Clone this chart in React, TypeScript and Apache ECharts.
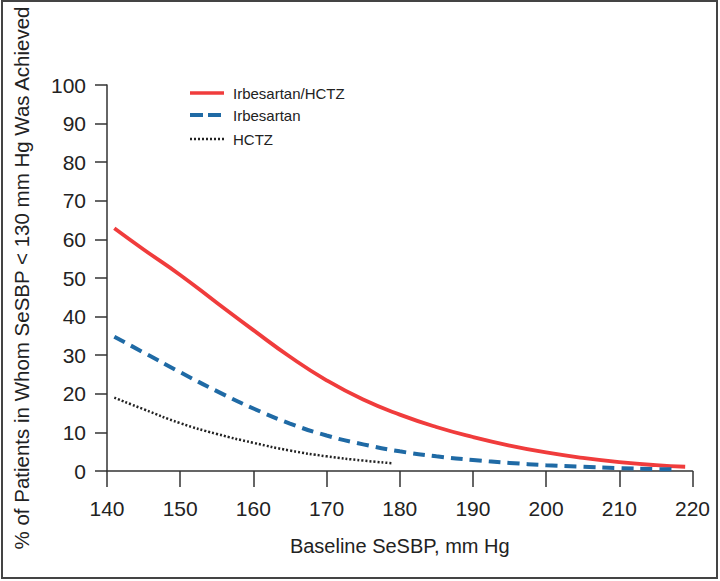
import React, { useEffect, useRef } from "react";
import * as echarts from "echarts";

const xTicks = [140, 150, 160, 170, 180, 190, 200, 210, 220];
const yTicks = [0, 10, 20, 30, 40, 50, 60, 70, 80, 90, 100];

const comboX = [141, 145, 150, 155, 160, 165, 170, 175, 180, 185, 190, 195, 200, 205, 210, 215, 219];
const comboY = [62.9, 57.4, 50.8, 43.6, 36.5, 29.6, 23.5, 18.5, 14.6, 11.4, 8.8, 6.6, 4.8, 3.4, 2.3, 1.5, 1.1];

const irbX = [141, 145, 150, 155, 160, 165, 170, 175, 180, 185, 190, 195, 200, 205, 210, 215, 218];
const irbY = [34.8, 30.7, 25.6, 20.7, 16.2, 12.3, 9.2, 6.9, 5.1, 3.8, 2.85, 2.1, 1.5, 1.1, 0.75, 0.5, 0.4];

const hctzX = [141, 145, 150, 155, 160, 165, 170, 175, 179];
const hctzY = [19.0, 16.0, 12.4, 9.6, 7.3, 5.3, 3.8, 2.7, 2.0];

const seriesNames = ["Irbesartan/HCTZ", "Irbesartan", "HCTZ"];
const seriesColors = ["#f03c3c", "#1f6aa5", "#222222"];

const FONT = "'Liberation Sans', Arial, sans-serif";

const pairs = (xs: number[], ys: number[]) => xs.map((x, i) => [x, ys[i]]);

export default function App() {
  const ref = useRef<HTMLDivElement>(null);
  useEffect(() => {
    if (!ref.current) return;
    const chart = echarts.init(ref.current, null, { renderer: "svg" });

    const legendRows = [93, 115, 139];
    const legendLineStyles = [
      { lineWidth: 3.5, lineDash: null as any },
      { lineWidth: 4, lineDash: [13, 5] },
      { lineWidth: 2.5, lineDash: [2, 2] },
    ];
    const legendGraphics: any[] = [];
    seriesNames.forEach((name, i) => {
      const y = legendRows[i];
      legendGraphics.push({
        type: "line",
        silent: true,
        shape: { x1: 190, y1: y, x2: 224, y2: y },
        style: {
          stroke: seriesColors[i],
          lineWidth: legendLineStyles[i].lineWidth,
          lineDash: legendLineStyles[i].lineDash,
        },
      });
      legendGraphics.push({
        type: "text",
        silent: true,
        x: 233,
        y: y,
        style: {
          text: name,
          fontFamily: FONT,
          fontSize: 15,
          fill: "#222",
          verticalAlign: "middle",
          align: "left",
        },
      });
    });

    chart.setOption({
      animation: false,
      backgroundColor: "#fff",
      textStyle: { fontFamily: FONT },
      grid: {
        left: 107,
        right: 27.5,
        top: 85,
        bottom: 110,
        containLabel: false,
        outerBoundsMode: "none",
      },
      xAxis: {
        type: "value",
        min: xTicks[0],
        max: xTicks[xTicks.length - 1],
        interval: 10,
        name: "Baseline SeSBP, mm Hg",
        nameLocation: "middle",
        nameGap: 65,
        nameTextStyle: { fontFamily: FONT, fontSize: 20, color: "#222" },
        axisLine: { lineStyle: { color: "#333", width: 1.5 } },
        axisTick: { length: 16, lineStyle: { color: "#333", width: 1.5 } },
        axisLabel: { fontFamily: FONT, fontSize: 21, color: "#222", margin: 27 },
        splitLine: { show: false },
      },
      yAxis: {
        type: "value",
        min: yTicks[0],
        max: yTicks[yTicks.length - 1],
        interval: 10,
        name: "% of Patients in Whom SeSBP < 130 mm Hg Was Achieved",
        nameLocation: "middle",
        nameGap: 75,
        nameTextStyle: { fontFamily: FONT, fontSize: 20.5, color: "#222" },
        axisLine: { show: true, lineStyle: { color: "#333", width: 1.5 } },
        axisTick: { show: true, length: 12, lineStyle: { color: "#333", width: 1.5 } },
        axisLabel: { fontFamily: FONT, fontSize: 21, color: "#222", margin: 21 },
        splitLine: { show: false },
      },
      series: [
        {
          name: seriesNames[0],
          type: "line",
          smooth: true,
          showSymbol: false,
          data: pairs(comboX, comboY),
          lineStyle: { color: seriesColors[0], width: 3.8 },
          itemStyle: { color: seriesColors[0] },
        },
        {
          name: seriesNames[1],
          type: "line",
          smooth: true,
          showSymbol: false,
          data: pairs(irbX, irbY),
          lineStyle: { color: seriesColors[1], width: 4, type: [12, 7] },
          itemStyle: { color: seriesColors[1] },
        },
        {
          name: seriesNames[2],
          type: "line",
          smooth: true,
          showSymbol: false,
          data: pairs(hctzX, hctzY),
          lineStyle: { color: seriesColors[2], width: 2.5, type: [2, 2] },
          itemStyle: { color: seriesColors[2] },
        },
      ],
      graphic: [
        {
          type: "rect",
          silent: true,
          shape: { x: 2, y: 1, width: 715, height: 577 },
          style: { fill: "none", stroke: "#444", lineWidth: 2 },
        },
        ...legendGraphics,
      ],
    });
    return () => chart.dispose();
  }, []);
  return (
    <div
      ref={ref}
      style={{ position: "fixed", left: 0, top: 0, width: 720, height: 581 }}
    />
  );
}
